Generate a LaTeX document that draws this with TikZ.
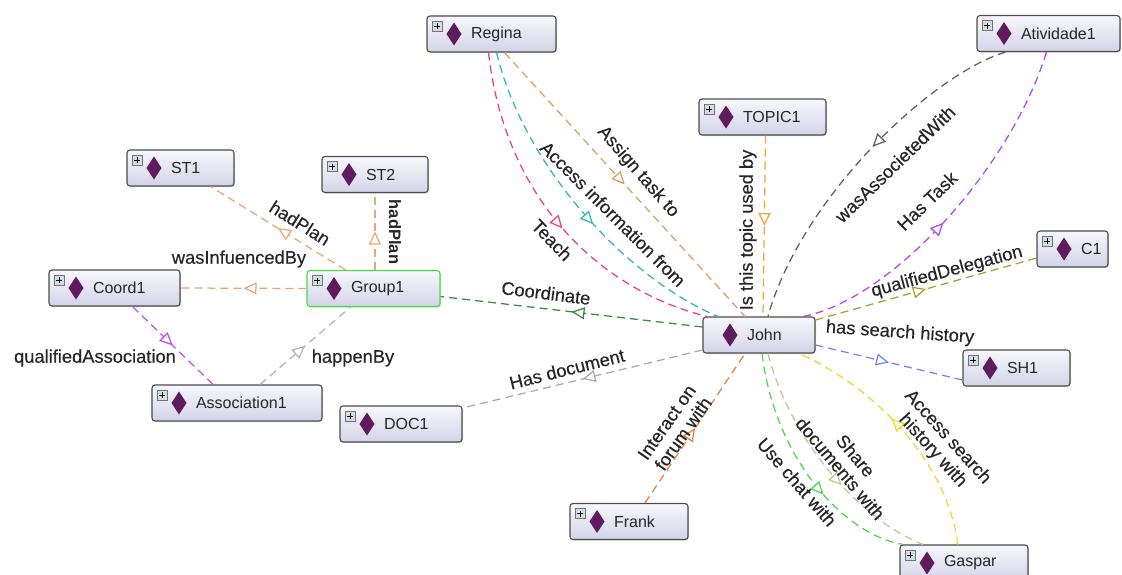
\documentclass[tikz,border=0pt]{standalone}
\usepackage{fontspec}
\setmainfont{Liberation Sans}
\newfontfamily\lblfont{Liberation Sans}[FakeBold=0.3]
\usetikzlibrary{arrows.meta,decorations.markings,shadows}

\definecolor{indivtop}{HTML}{F7F7FD}
\definecolor{indivbot}{HTML}{D3D3E8}
\definecolor{diam}{HTML}{5E1B5E}
\definecolor{plusfill}{HTML}{D2DEE6}
\definecolor{groupgreen}{HTML}{44DD44}
\definecolor{cPeach}{HTML}{EBA574}
\definecolor{cQAssoc}{HTML}{C24FEF}
\definecolor{cHappen}{HTML}{B4B4B4}
\definecolor{cCoord}{HTML}{3A8C3A}
\definecolor{cHasDoc}{HTML}{AAAAAA}
\definecolor{cAssign}{HTML}{D9A062}
\definecolor{cAccess}{HTML}{2FB6B6}
\definecolor{cTeach}{HTML}{F23C82}
\definecolor{cTopic}{HTML}{F6A234}
\definecolor{cWasAssoc}{HTML}{5E5E5E}
\definecolor{cHasTask}{HTML}{B044F2}
\definecolor{cDeleg}{HTML}{A6A032}
\definecolor{cSearch}{HTML}{7382F6}
\definecolor{cForum}{HTML}{E8803E}
\definecolor{cChat}{HTML}{52D452}
\definecolor{cShare}{HTML}{CAC292}
\definecolor{cHist}{HTML}{F6D42E}

\newcommand{\indivdiamond}{%
	\fill[diam,sharp corners] ([shift={(27pt,11.5pt)}]path picture bounding box.west)
		-- ++(7.5pt,-11.5pt) -- ++(-7.5pt,-11.5pt) -- ++(-7.5pt,11.5pt) -- cycle;}
\newcommand{\indivplus}{%
	\draw[black!55,fill=plusfill,line width=.5pt,sharp corners]
		([shift={(5pt,-5pt)}]path picture bounding box.north west) rectangle ++(10pt,-10pt);
	\draw[black,line width=.9pt,sharp corners]
		([shift={(10pt,-7pt)}]path picture bounding box.north west) -- ++(0pt,-6pt)
		([shift={(7pt,-10pt)}]path picture bounding box.north west) -- ++(6pt,0pt);}
\def\tippos{.5}

\begin{document}
\begin{tikzpicture}[
x=1pt,y=-1pt,
indivbox/.style={
	draw=black!70,
	line width=1.1pt,
	rounded corners=3pt,
	top color=indivtop,
	bottom color=indivbot,
	drop shadow={shadow xshift=1pt,shadow yshift=-1pt,opacity=.3},
	minimum height=36pt,
	inner xsep=0pt,
	inner ysep=0pt,
	text width=#1pt,
	align=left,
	font=\fontsize{16}{19}\selectfont,
	text=black!85,
	execute at begin node={\hspace*{44pt}}
},
indiv/.style={
	indivbox=#1,
	path picture={\indivdiamond\indivplus}
},
person/.style={
	indivbox=#1,
	path picture={\indivdiamond}
},
tip at/.code={\def\tippos{#1}},
rel/.style={
	draw=#1,
	line width=1.25pt,
	dash pattern=on 8pt off 5pt,
	postaction={decorate},
	decoration={markings,
		mark=at position \tippos with {\arrow{Triangle[fill=white,length=13pt,width=12pt]}}}
},
lbl/.style={
	font=\lblfont\fontsize{18.3}{20}\selectfont,
	text=black!85,
	inner sep=1pt,
	align=center
}
]
\useasboundingbox (0,0) rectangle (1122,574);

% individuals
\foreach \n/\x/\y/\w/\t in {
	regina/491.5/34/129/Regina,
	topic1/762.5/117/127/TOPIC1,
	atividade1/1048.5/33.5/143/Atividade1,
	c1/1072.5/249/71/C1,
	st1/180.5/168/107/ST1,
	st2/375/174.5/106/ST2,
	coord1/114.5/288/131/Coord1,
	association1/237/403/170/Association1,
	doc1/401/424/122/DOC1,
	sh1/1016.5/368/107/SH1,
	frank/629/521.5/118/Frank,
	gaspar/964/563/128/Gaspar}
\node[indiv=\w] (\n) at (\x,\y) {\t};

\node[indiv=133,draw=groupgreen] (group1) at (373.5,288.5) {Group1};
\node[person=112] (john) at (759,335) {John};

% object properties
\draw[rel=cPeach] ([xshift=-28pt]group1.north) -- ([xshift=30pt]st1.south);
\draw[rel=cPeach] ([xshift=1.5pt]group1.north) -- (st2.south);
\draw[rel=cPeach] (group1.west) -- (coord1.east);
\draw[rel=cQAssoc] ([xshift=18pt]coord1.south) -- ([xshift=-24pt]association1.north);
\draw[rel=cHappen] ([xshift=23pt]association1.north) -- ([xshift=-23pt]group1.south);
\draw[rel=cCoord] ([yshift=8pt]john.west) -- ([yshift=-8pt]group1.east);
\draw[rel=cHasDoc] ([yshift=-15pt]john.west) -- ([yshift=16pt]doc1.east);

\draw[rel=cAssign] ([xshift=13pt]regina.south) -- ([xshift=-14pt]john.north);
\draw[rel=cAccess,tip at=.56] ([xshift=5pt]regina.south) .. controls (525,170) and (630,280) .. ([xshift=-41pt]john.north);
\draw[rel=cTeach,tip at=.53] ([xshift=-3pt]regina.south) .. controls (505,200) and (600,290) .. ([xshift=-52pt]john.north);
\draw[rel=cTopic] ([xshift=3pt]topic1.south) -- ([xshift=4pt]john.north);
\draw[rel=cWasAssoc,tip at=.45] ([xshift=-43pt]atividade1.south) .. controls (930,75) and (800,200) .. ([xshift=9pt]john.north);
\draw[rel=cHasTask,tip at=.46] ([xshift=44pt]john.north) .. controls (890,300) and (1010,170) .. ([xshift=-2pt]atividade1.south);
\draw[rel=cDeleg] ([yshift=15pt]john.east) -- ([yshift=-9pt]c1.west);
\draw[rel=cSearch] ([yshift=-10pt]john.east) -- ([yshift=-12pt]sh1.west);

\draw[rel=cForum] ([xshift=16pt]frank.north) -- ([xshift=-14pt]john.south);
\draw[rel=cChat,tip at=.62] ([xshift=3pt]john.south) .. controls (775,460) and (845,535) .. ([xshift=-61pt]gaspar.north);
\draw[rel=cShare,tip at=.6] ([xshift=9pt]john.south) .. controls (790,440) and (860,520) .. ([xshift=-41pt]gaspar.north);
\draw[rel=cHist,tip at=.56] ([xshift=-6pt]gaspar.north) .. controls (945,450) and (860,380) .. ([xshift=40pt]john.south);

% labels
\foreach \x/\y/\r/\t [count=\i] in {
	300/223/-32/hadPlan,
	239/259/0/wasInfuencedBy,
	95/358/0/qualifiedAssociation,
	353/358/0/happenBy,
	546/293/-7/Coordinate,
	567/369/14/Has document,
	638/172/-49/Assign task to,
	613/214/-45/Access information from,
	552/240/-46/Teach,
	748/230/90/Is this topic used by,
	895/164/44/wasAssocietedWith,
	927/201/44/Has Task,
	947/272/15/qualifiedDelegation,
	900/333/-4/has search history,
	797/482/-49/Use chat with}
\node[lbl,rotate=\r] (l\i) at (\x,\y) {\t};

\node[lbl,rotate=-90,font=\fontsize{16.5}{19}\selectfont\bfseries] (lplan) at (395,232) {hadPlan};
\node[lbl,rotate=55] (lforum) at (675,428) {Interact on\\forum with};
\node[lbl,rotate=-50] (lshare) at (848,462) {Share\\documents with};
\node[lbl,rotate=-48] (lhist) at (940,444) {Access search\\history with};
\end{tikzpicture}
\end{document}
